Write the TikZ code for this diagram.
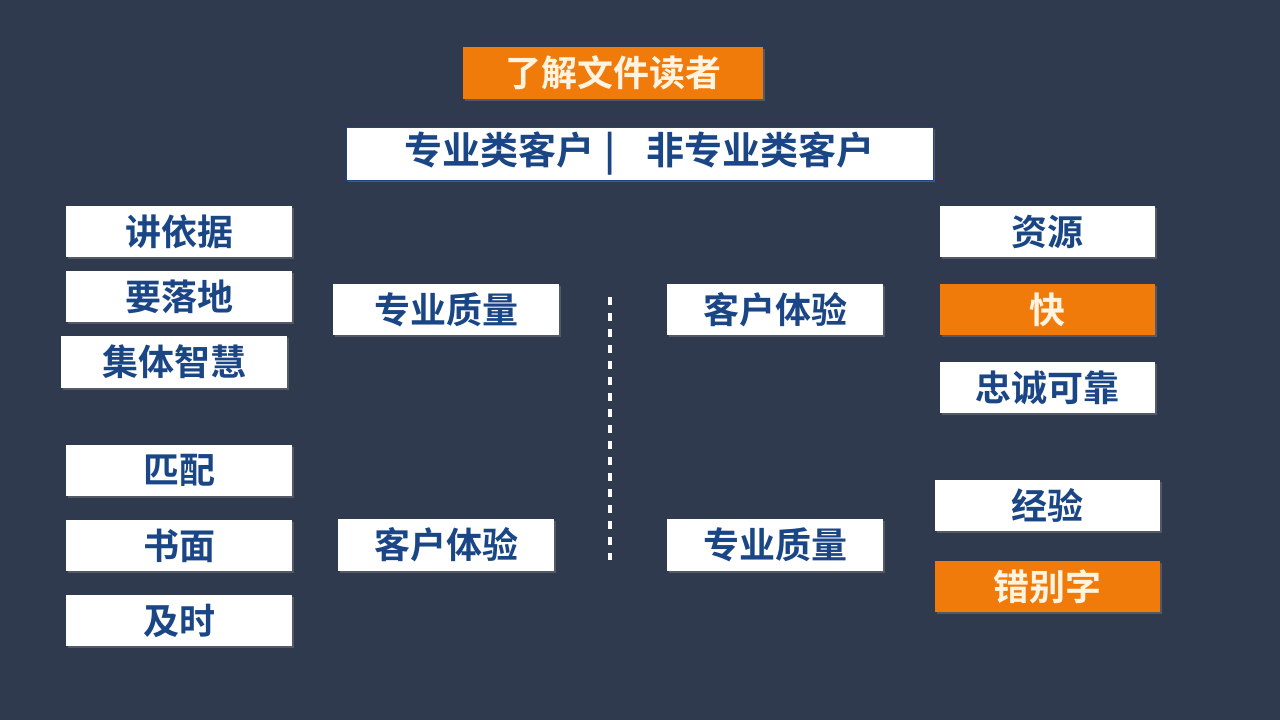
\documentclass[tikz,border=0pt]{standalone}
\usepackage{fontspec}
\newfontfamily\cjk{Noto Sans CJK SC}[BoldFont={Noto Sans CJK SC Bold}]
\usetikzlibrary{shadows}
\definecolor{bgnavy}{HTML}{2F3A4F}
\definecolor{boxorange}{HTML}{F07B0A}
\definecolor{txtblue}{HTML}{1B4686}
\definecolor{txtcream}{HTML}{FFF4E2}
\tikzset{
  card/.style={fill=white, inner sep=0pt, text=txtblue,
    font=\cjk\bfseries\fontsize{36}{36}\selectfont,
    drop shadow={opacity=0.45, shadow xshift=2pt, shadow yshift=-2pt}},
  hot/.style={card, fill=boxorange, text=txtcream}
}
\begin{document}
\begin{tikzpicture}[x=1pt, y=-1pt]
  \fill [bgnavy] (0,0) rectangle (1280,720);
  \useasboundingbox (0,0) rectangle (1280,720);
  % title and reader types
  \node [hot, minimum width=300pt, minimum height=52pt] (title) at (613,73) {了解文件读者};
  \node [card, draw=txtblue, line width=1pt, minimum width=587pt, minimum height=53pt,
    font=\cjk\bfseries\fontsize{38}{38}\selectfont] (types) at (639.5,153.5)
    {专业类客户\hspace{10pt}|\hspace{30pt}非专业类客户};
  % left side
  \node [card, minimum width=226pt, minimum height=51pt] (basis) at (179,231.5) {讲依据};
  \node [card, minimum width=226pt, minimum height=51pt] (ground) at (179,296.5) {要落地};
  \node [card, minimum width=226pt, minimum height=52pt] (wisdom) at (174,362) {集体智慧};
  \node [card, minimum width=226pt, minimum height=51pt] (match) at (179,470.5) {匹配};
  \node [card, minimum width=226pt, minimum height=51pt] (written) at (179,545.5) {书面};
  \node [card, minimum width=226pt, minimum height=51pt] (timely) at (179,620.5) {及时};
  \node [card, minimum width=226pt, minimum height=51pt] (qualL) at (446,309.5) {专业质量};
  \node [card, minimum width=216pt, minimum height=52pt] (expL) at (446,545) {客户体验};
  % divider
  \coordinate (divtop) at (610,297);
  \coordinate (divbot) at (610,560);
  \draw [white, line width=3.5pt, dash pattern=on 8pt off 8pt] (divtop) -- (divbot);
  % right side
  \node [card, minimum width=216pt, minimum height=51pt] (expR) at (775,309.5) {客户体验};
  \node [card, minimum width=216pt, minimum height=52pt] (qualR) at (775,545) {专业质量};
  \node [card, minimum width=215pt, minimum height=51pt] (source) at (1047.5,231.5) {资源};
  \node [hot, minimum width=215pt, minimum height=51pt] (fast) at (1047.5,309.5) {快};
  \node [card, minimum width=215pt, minimum height=51pt] (loyal) at (1047.5,387.5) {忠诚可靠};
  \node [card, minimum width=225pt, minimum height=51pt] (exper) at (1047.5,505.5) {经验};
  \node [hot, minimum width=225pt, minimum height=51pt] (typo) at (1047.5,586.5) {错别字};
\end{tikzpicture}
\end{document}
